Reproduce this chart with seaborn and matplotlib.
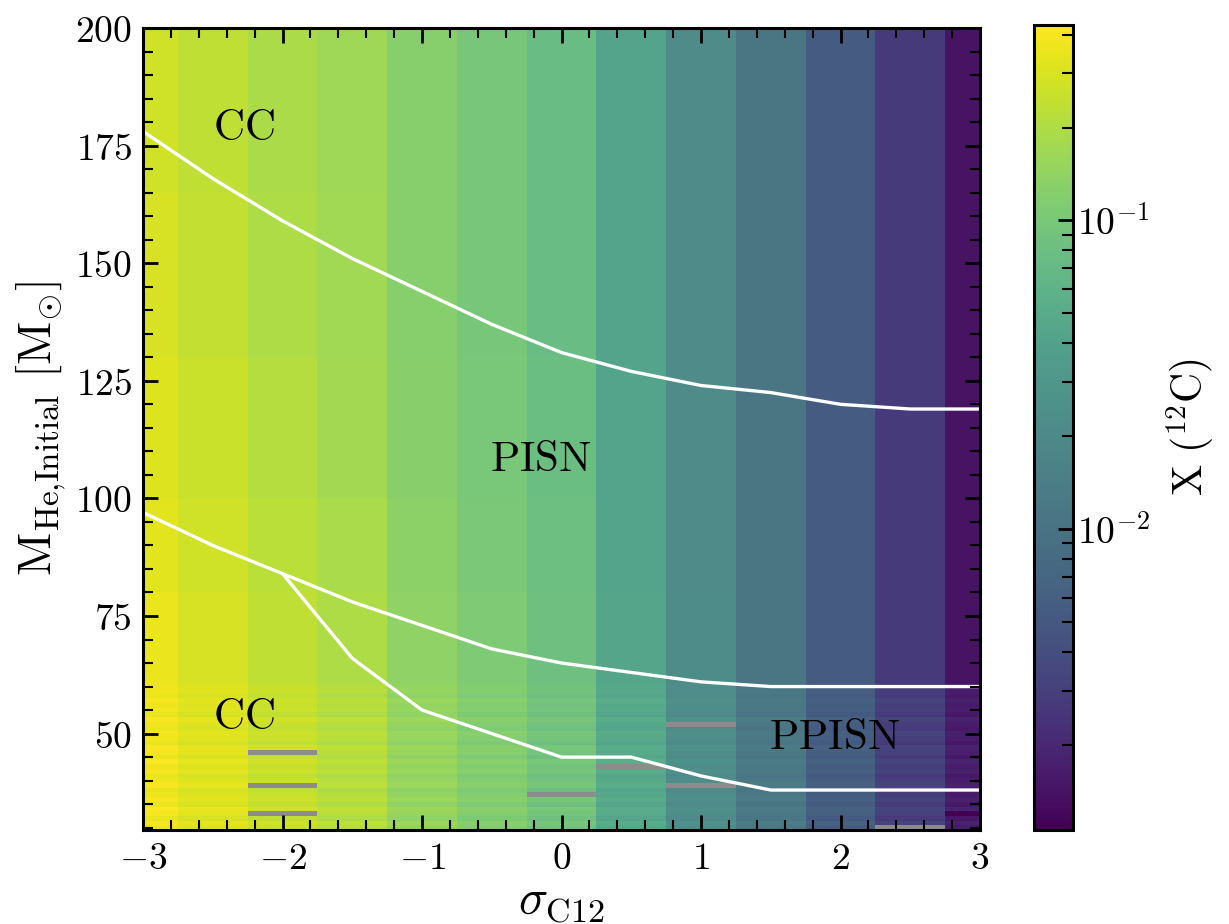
import numpy as np
import pandas as pd
import matplotlib
matplotlib.use("Agg")
import matplotlib.pyplot as plt
import seaborn as sns
from matplotlib.colors import LogNorm, ListedColormap
from matplotlib.ticker import FuncFormatter, MultipleLocator, FixedLocator, NullFormatter

# ---------------------------------------------------------------- data
sigma_c12 = [-3.0, -2.5, -2.0, -1.5, -1.0, -0.5, 0.0, 0.5, 1.0, 1.5, 2.0, 2.5, 3.0]

# central carbon mass fraction per sigma column, in mass bands (M_sun)
x12_165_200 = [0.275, 0.237, 0.192, 0.165, 0.122, 0.096, 0.0757, 0.0415, 0.0214, 0.0111, 0.00536, 0.00276, 0.00143]
x12_130_165 = [0.292, 0.244, 0.198, 0.170, 0.122, 0.096, 0.0757, 0.0415, 0.0214, 0.0111, 0.00536, 0.00276, 0.00143]
x12_100_130 = [0.310, 0.259, 0.210, 0.175, 0.126, 0.099, 0.0779, 0.0415, 0.0214, 0.0111, 0.00536, 0.00276, 0.00143]
x12_80_100 = [0.329, 0.275, 0.223, 0.186, 0.130, 0.102, 0.0802, 0.0427, 0.0214, 0.0111, 0.00536, 0.00276, 0.00143]
x12_60_80 = [0.350, 0.292, 0.237, 0.198, 0.138, 0.108, 0.0827, 0.0440, 0.0219, 0.0113, 0.00536, 0.00276, 0.00143]
x12_30_60 = [0.371, 0.310, 0.251, 0.210, 0.146, 0.115, 0.0878, 0.0467, 0.0228, 0.0117, 0.00573, 0.00294, 0.00165]

# low-mass grid (1 M_sun spacing) and its model-to-model scatter in dex
low_masses = list(range(30, 61))
low_scatter_dex = [0.00, 0.04, -0.03, 0.02, 0.05, -0.02, 0.03, 0.00, -0.04, 0.04,
                   0.01, -0.03, 0.03, 0.00, 0.05, -0.02, 0.02, 0.04, -0.03, 0.01,
                   0.03, -0.02, 0.00, 0.04, -0.03, 0.02, 0.00, 0.03, -0.02, 0.01, 0.00]

# models without a result (sigma, mass) and an outlier model
missing_models = [(-2.0, 46), (-2.0, 39), (-2.0, 33), (0.0, 37), (0.5, 43),
                  (1.0, 52), (1.0, 39), (2.5, 30)]
outlier_models = [(3.0, 33, 0.00108)]

# region boundaries
cc_pisn_sigma = [-3.0, -2.5, -2.0, -1.5, -1.0, -0.5, 0.0, 0.5, 1.0, 1.5, 2.0, 2.5, 3.0]
cc_pisn_mass = [178, 168, 159, 151, 144, 137, 131, 127, 124, 122.5, 120, 119, 119]
pisn_ppisn_sigma = [-3.0, -2.5, -2.0, -1.5, -1.0, -0.5, 0.0, 0.5, 1.0, 1.5, 2.0, 2.5, 3.0]
pisn_ppisn_mass = [97, 90, 84, 78, 73, 68, 65, 63, 61, 60, 60, 60, 60]
ppisn_cc_sigma = [-2.0, -1.5, -1.0, -0.5, 0.0, 0.5, 1.0, 1.5, 2.0, 2.5, 3.0]
ppisn_cc_mass = [84, 66, 55, 50, 45, 45, 41, 38, 38, 38, 38]

x12_min, x12_max = 0.00106, 0.43

# ---------------------------------------------------------------- grid
sig = np.array(sigma_c12)
x_edges = np.concatenate([sig - 0.25, [sig[-1] + 0.25]])
low = np.array(low_masses, dtype=float)
y_edges = np.unique(np.concatenate([low - 0.5, [60.5], [80, 100, 130, 165, 200]]))

low_rows = np.array(x12_30_60)[None, :] * 10 ** np.array(low_scatter_dex)[:, None]
upper_rows = np.array([x12_60_80, x12_80_100, x12_100_130, x12_130_165, x12_165_200])
grid = np.vstack([low_rows, upper_rows])

for s, m in missing_models:
    grid[low_masses.index(m), sigma_c12.index(s)] = np.nan
for s, m, v in outlier_models:
    grid[low_masses.index(m), sigma_c12.index(s)] = v

# ---------------------------------------------------------------- colormap
# viridis with softened chroma in the green/teal middle of the scale
t = np.linspace(0, 1, 256)
base = matplotlib.colormaps["viridis"](t)[:, :3]
lum = base @ np.array([0.30, 0.59, 0.11])
target = np.clip(lum * 1.2, 0, 1)[:, None]
soften = (0.45 * np.sin(np.pi * t) ** 1.5)[:, None]
soft = base * (1 - soften) + target * soften
cmap = ListedColormap(soft, name="viridis_soft").with_extremes(bad="#8c8c8c")

# ---------------------------------------------------------------- style
sns.set_style("ticks")
plt.rcParams.update({
    "mathtext.fontset": "cm",
    "font.family": ["DejaVu Serif"],
    "axes.axisbelow": False,
    "axes.edgecolor": "black",
    "axes.linewidth": 2.2,
    "text.color": "black",
    "axes.labelcolor": "black",
    "xtick.direction": "in",
    "ytick.direction": "in",
    "xtick.top": True,
    "ytick.right": True,
    "xtick.color": "black",
    "ytick.color": "black",
})

fig = plt.figure(figsize=(12.29, 9.24), dpi=100)
ax = fig.add_axes([0.1164, 0.1017, 0.681, 0.868])
cax = fig.add_axes([0.8413, 0.1017, 0.0317, 0.8713])
ax.set_axisbelow(False)

norm = LogNorm(vmin=x12_min, vmax=x12_max)
mesh = ax.pcolormesh(x_edges, y_edges, np.ma.masked_invalid(grid), cmap=cmap,
                     norm=norm, shading="flat", antialiased=False,
                     edgecolors="none", zorder=0)

for xs, ms in [(cc_pisn_sigma, cc_pisn_mass),
               (pisn_ppisn_sigma, pisn_ppisn_mass),
               (ppisn_cc_sigma, ppisn_cc_mass)]:
    df = pd.DataFrame({"sigma": xs, "mass": ms})
    sns.lineplot(data=df, x="sigma", y="mass", ax=ax, color="white",
                 linewidth=2.4, estimator=None, sort=False, zorder=1)

ax.set_xlim(-3, 3)
ax.set_ylim(29.5, 200)

tick_fmt = FuncFormatter(lambda v, p: f"${v:g}$")
ax.xaxis.set_major_locator(MultipleLocator(1))
ax.xaxis.set_minor_locator(MultipleLocator(0.2))
ax.yaxis.set_major_locator(FixedLocator([50, 75, 100, 125, 150, 175, 200]))
ax.yaxis.set_minor_locator(MultipleLocator(5))
ax.xaxis.set_major_formatter(tick_fmt)
ax.yaxis.set_major_formatter(tick_fmt)
ax.tick_params(which="both", labelsize=27, pad=8, top=True, right=True,
               direction="in", color="black", labelcolor="black")
ax.tick_params(which="major", length=11, width=2.0)
ax.tick_params(which="minor", length=7, width=1.5)

ax.set_xlabel(r"$\sigma_{\mathrm{C12}}$", fontsize=35, labelpad=0)
ax.set_ylabel(r"$\mathrm{M_{He{,}Initial}\ [M_{\odot}]}$", fontsize=34, labelpad=5)

label_kw = dict(fontsize=31, color="black", va="center", zorder=2)
ax.text(-2.5, 178.7, r"$\mathrm{CC}$", ha="left", **label_kw)
ax.text(-0.15, 108.4, r"$\mathrm{PISN}$", ha="center", **label_kw)
ax.text(-2.5, 53.6, r"$\mathrm{CC}$", ha="left", **label_kw)
ax.text(1.96, 49.2, r"$\mathrm{PPISN}$", ha="center", **label_kw)

for sp in ax.spines.values():
    sp.set_visible(True)
    sp.set_linewidth(2.2)
    sp.set_color("black")

cb = fig.colorbar(mesh, cax=cax)
cb.outline.set_linewidth(2.2)
cb.outline.set_edgecolor("black")
cb.ax.yaxis.set_major_locator(FixedLocator([1e-2, 1e-1]))
cb.ax.yaxis.set_major_formatter(FuncFormatter(
    lambda v, p: r"$10^{%d}$" % int(round(np.log10(v)))))
minor_ticks = [k * 10.0 ** e for e in (-3, -2, -1) for k in range(2, 10)]
cb.ax.yaxis.set_minor_locator(FixedLocator(
    [m for m in minor_ticks if x12_min <= m <= x12_max]))
cb.ax.yaxis.set_minor_formatter(NullFormatter())
cb.ax.set_axisbelow(False)
cb.ax.tick_params(which="both", direction="in", right=True, left=False,
                  labelsize=27, pad=3, color="black", labelcolor="black")
cb.ax.tick_params(which="major", length=11, width=2.0)
cb.ax.tick_params(which="minor", length=8, width=1.5)
cb.set_label(r"$\mathrm{X\ (^{12}C)}$", fontsize=30, labelpad=10)

fig.savefig("out.png", dpi=100)
